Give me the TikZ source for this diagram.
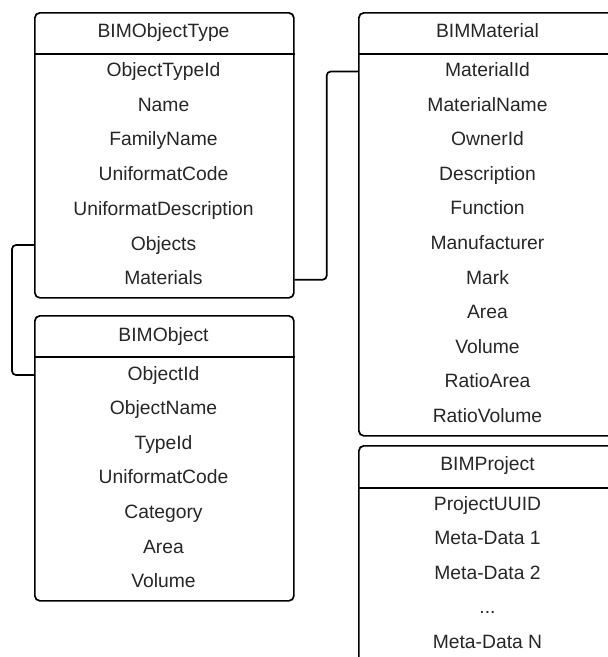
\documentclass[tikz,border=0pt]{standalone}
\usepackage{fontspec}
\setmainfont{Liberation Sans}
\usetikzlibrary{calc}

\tikzset{
  table/.style={draw=black, line width=1.7pt, rounded corners=5pt,
    minimum width=259pt, anchor=north west, inner sep=0pt},
  field/.style={text=black!85, inner sep=0pt, anchor=base,
    text height=14pt, text depth=4pt},
  link/.style={draw=black, line width=1.7pt, rounded corners=4pt}
}

\begin{document}
\begin{tikzpicture}[x=1pt, y=-1pt,
  every node/.append style={font=\fontsize{19.3}{22}\selectfont}]
\useasboundingbox (0,0) rectangle (608,657);
\clip (0,0) rectangle (608,657);

% BIMObjectType
\node [table, minimum height=285pt] (ot) at (34,12) {};
\draw [black, line width=1.7pt] (ot.west |- 0,54) -- (ot.east |- 0,54);
\node [field] (othead) at (163.5,37.5) {BIMObjectType};
\node [field] (otid) at (163.5,76.5) {ObjectTypeId};
\node [field] (otname) at (163.5,111.2) {Name};
\node [field] (otfam) at (163.5,145.9) {FamilyName};
\node [field] (otcode) at (163.5,180.6) {UniformatCode};
\node [field] (otdesc) at (163.5,215.3) {UniformatDescription};
\node [field] (otobj) at (163.5,250) {Objects};
\node [field] (otmat) at (163.5,284.7) {Materials};

% BIMObject
\node [table, minimum height=285pt] (ob) at (34,315) {};
\draw [black, line width=1.7pt] (ob.west |- 0,357) -- (ob.east |- 0,357);
\node [field] (obhead) at (163.5,341) {BIMObject};
\node [field] (obid) at (163.5,380) {ObjectId};
\node [field] (obname) at (163.5,414.6) {ObjectName};
\node [field] (obtype) at (163.5,449.2) {TypeId};
\node [field] (obcode) at (163.5,483.8) {UniformatCode};
\node [field] (obcat) at (163.5,518.4) {Category};
\node [field] (obarea) at (163.5,553) {Area};
\node [field] (obvol) at (163.5,587.6) {Volume};

% BIMMaterial
\node [table, minimum height=423pt] (ma) at (358,12) {};
\draw [black, line width=1.7pt] (ma.west |- 0,54) -- (ma.east |- 0,54);
\node [field] (mahead) at (487.5,37.5) {BIMMaterial};
\node [field] (maid) at (487.5,76.5) {MaterialId};
\node [field] (maname) at (487.5,111.1) {MaterialName};
\node [field] (maowner) at (487.5,145.7) {OwnerId};
\node [field] (madesc) at (487.5,180.3) {Description};
\node [field] (mafunc) at (487.5,214.9) {Function};
\node [field] (maman) at (487.5,249.5) {Manufacturer};
\node [field] (mamark) at (487.5,284.1) {Mark};
\node [field] (maarea) at (487.5,318.7) {Area};
\node [field] (mavol) at (487.5,353.3) {Volume};
\node [field] (marea) at (487.5,387.9) {RatioArea};
\node [field] (marvol) at (487.5,422.5) {RatioVolume};

% BIMProject
\node [table, minimum height=240pt] (pr) at (358,445) {};
\draw [black, line width=1.7pt] (pr.west |- 0,488) -- (pr.east |- 0,488);
\node [field] (prhead) at (487.5,470) {BIMProject};
\node [field] (pruuid) at (487.5,510) {ProjectUUID};
\node [field] (prmeta1) at (487.5,544.5) {Meta-Data 1};
\node [field] (prmeta2) at (487.5,579) {Meta-Data 2};
\node [field] (prdots) at (487.5,613.5) {...};
\node [field] (prmetan) at (487.5,648) {Meta-Data N};

% connectors
\draw [link] (ot.west |- otobj) -- ++(-22,0) |- (ob.west |- obid);
\draw [link] (ot.east |- otmat) -- ++(32,0) |- (ma.west |- maid);
\end{tikzpicture}
\end{document}
